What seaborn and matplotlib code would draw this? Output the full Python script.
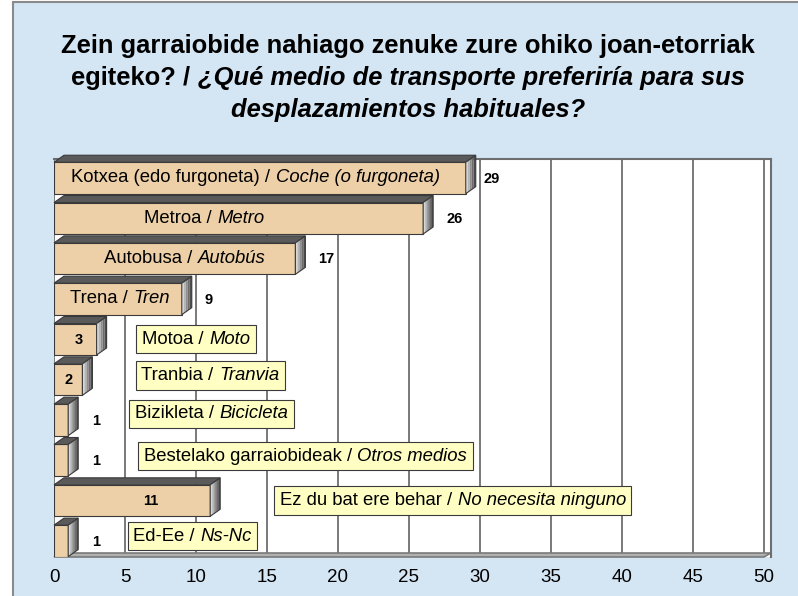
import matplotlib
matplotlib.use("Agg")
import matplotlib.pyplot as plt
import matplotlib.transforms as mtransforms
from matplotlib.patches import Polygon, Rectangle
from matplotlib.offsetbox import TextArea, HPacker, AnnotationBbox
import numpy as np
import pandas as pd
import seaborn as sns

# --- data ---
title_eu = ["Zein garraiobide nahiago zenuke zure ohiko joan-etorriak", "egiteko? /", ""]
title_es = ["", "¿Qué medio de transporte preferiría para sus", "desplazamientos habituales?"]

names_eu = ["Kotxea (edo furgoneta) /", "Metroa /", "Autobusa /", "Trena /", "Motoa /",
            "Tranbia /", "Bizikleta /", "Bestelako garraiobideak /", "Ez du bat ere behar /", "Ed-Ee /"]
names_es = ["Coche (o furgoneta)", "Metro", "Autobús", "Tren", "Moto",
            "Tranvia", "Bicicleta", "Otros medios", "No necesita ninguno", "Ns-Nc"]
counts = [29, 26, 17, 9, 3, 2, 1, 1, 11, 1]
x_ticks = [0, 5, 10, 15, 20, 25, 30, 35, 40, 45, 50]

# --- label layout (data units) ---
name_x = [14.2, 10.6, 9.2, 4.65, 10.0, 11.0, 11.1, 17.7, 28.1, 9.75]
name_dy = [0, 0, 0, 0, 0, -0.1, -0.15, -0.1, 0, -0.12]
name_boxed = [False, False, False, False, True, True, True, True, True, True]
count_x = [30.8, 28.2, 19.2, 10.9, 1.75, 1.05, 2.95, 2.95, 6.8, 2.95]

sns.set_style("white")
plt.rcParams["font.family"] = ["Liberation Sans", "DejaVu Sans"]
plt.rcParams["text.color"] = "black"

W, H = 798, 596
fig = plt.figure(figsize=(W / 100, H / 100), dpi=100)
fig.patch.set_facecolor("white")
fig.add_artist(Rectangle((13 / W, -0.05), 1.1, 594 / H + 0.05, transform=fig.transFigure,
                         facecolor="#d4e6f4", edgecolor="#8a8a8a", lw=1.5, zorder=-5))

ax = fig.add_axes([54 / W, (H - 557) / H, (771 - 54) / W, (557 - 159) / H])
df = pd.DataFrame({"cat": names_eu, "n": counts})
sns.barplot(data=df, x="n", y="cat", orient="h", color="#edd0a8", saturation=1,
            width=0.78, edgecolor="#3a3a3a", linewidth=0.8, ax=ax, zorder=3)
bars = list(ax.patches)
ax.set_xlim(0, 50.5)
ax.set_ylim(9.4, -0.47)
ax.set_facecolor("white")
ax.set_xticks(x_ticks)
ax.set_yticks([])
ax.set_xlabel("")
ax.set_ylabel("")
ax.grid(axis="x", color="#555555", lw=1.1)
ax.set_axisbelow(True)
ax.tick_params(axis="x", length=0, pad=9, labelsize=13.5, labelcolor="black")
for s in ["left", "bottom"]:
    ax.spines[s].set_visible(False)
for s in ["top", "right"]:
    ax.spines[s].set_color("#6e6e6e")
    ax.spines[s].set_linewidth(1.5)

# floor of the 3d box
ident = mtransforms.IdentityTransform()
(fx0, fy0), (fx1, _) = ax.transData.transform([(0, 9.4), (50, 9.4)])
ax.add_patch(Polygon([(fx0, fy0), (fx1, fy0), (fx1 + 7, fy0 + 4), (fx0 + 7, fy0 + 4)],
                     closed=True, transform=ident, clip_on=False, facecolor="#b0b0b0",
                     edgecolor="#7a7a7a", lw=1.2, zorder=2))

# 3d faces on the bars
dx, dy = 10, 7
side_cols = ["#d8d8d8", "#b4b4b4", "#8e8e8e", "#6c6c6c", "#4c4c4c"]
for p in bars:
    (L, B), (R, T) = ax.transData.transform([(p.get_x(), p.get_y() + p.get_height()),
                                             (p.get_x() + p.get_width(), p.get_y())])
    ax.add_patch(Polygon([(L, T), (R, T), (R + dx, T + dy), (L + dx, T + dy)], closed=True,
                         transform=ident, clip_on=False, facecolor="#5a5a5a",
                         edgecolor="#3a3a3a", lw=0.8, zorder=4))
    n = len(side_cols)
    for i, c in enumerate(side_cols):
        f0, f1 = i / n, (i + 1) / n
        ax.add_patch(Polygon([(R + f0 * dx, B + f0 * dy), (R + f1 * dx, B + f1 * dy),
                              (R + f1 * dx, T + f1 * dy), (R + f0 * dx, T + f0 * dy)],
                             closed=True, transform=ident, clip_on=False, facecolor=c,
                             edgecolor="none", zorder=4))
    ax.add_patch(Polygon([(R, B), (R, T), (R + dx, T + dy), (R + dx, B + dy)], closed=True,
                         transform=ident, clip_on=False, facecolor="none",
                         edgecolor="#3a3a3a", lw=0.8, zorder=4))

# category labels (basque normal / spanish italic)
lab_fs = 13.3
for i, (eu, es) in enumerate(zip(names_eu, names_es)):
    pk = HPacker(children=[TextArea(eu, textprops=dict(fontsize=lab_fs, color="black")),
                           TextArea(es, textprops=dict(fontsize=lab_fs, color="black", fontstyle="italic"))],
                 sep=4, pad=0, align="baseline")
    if name_boxed[i]:
        ab = AnnotationBbox(pk, (name_x[i], i + name_dy[i]), frameon=True, pad=0.4,
                            box_alignment=(0.5, 0.5), zorder=6,
                            bboxprops=dict(boxstyle="square,pad=0.4", facecolor="#ffffc4",
                                           edgecolor="#3a3a3a", lw=0.8))
    else:
        ab = AnnotationBbox(pk, (name_x[i], i + name_dy[i]), frameon=False,
                            box_alignment=(0.5, 0.5), zorder=6)
    ax.add_artist(ab)

for i, v in enumerate(counts):
    ax.text(count_x[i], i + 0.02, str(v), ha="center", va="center", fontsize=10.5,
            fontweight="bold", color="black", zorder=6)

# title
title_y = [46, 78, 110]
for eu, es, yy in zip(title_eu, title_es, title_y):
    kids = []
    if eu:
        kids.append(TextArea(eu, textprops=dict(fontsize=18.4, fontweight="bold", color="black")))
    if es:
        kids.append(TextArea(es, textprops=dict(fontsize=18.4, fontweight="bold",
                                                fontstyle="italic", color="black")))
    pk = HPacker(children=kids, sep=6, pad=0, align="baseline")
    fig.add_artist(AnnotationBbox(pk, (408 / W, 1 - yy / H), xycoords="figure fraction",
                                  frameon=False, box_alignment=(0.5, 0.5)))

fig.savefig("out.png", dpi=100)
